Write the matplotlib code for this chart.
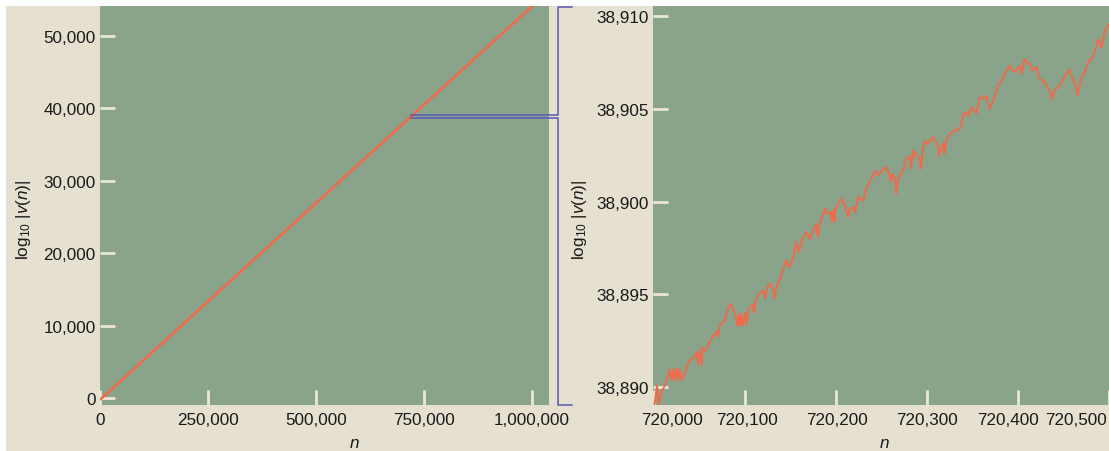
import matplotlib
matplotlib.use("Agg")
import matplotlib.pyplot as plt
from matplotlib.lines import Line2D
from matplotlib.patches import Rectangle
from matplotlib.ticker import FuncFormatter

plt.rcParams["font.family"] = ["Liberation Sans", "DejaVu Sans"]
plt.rcParams["mathtext.fontset"] = "custom"
plt.rcParams["mathtext.rm"] = "Liberation Sans"
plt.rcParams["mathtext.it"] = "Liberation Sans:italic"

PANEL, PAPER = "#89a48a", "#e5e0cf"
CURVE, BRACKET, TICK, INK = "#ef6b4b", "#5858b4", "#ece8d9", "#1a1a1a"
FS = 12.3

# overview: log10|v(n)| grows almost linearly in n
N_ALL = [0, 360000, 720000, 1040000]
LOG_ALL = [-250, 19320, 38890, 56280]

# close-up window starting at n = 720,000 (offsets from the start)
N_OFF = [0, 3, 5, 8, 11, 14, 17, 19, 21, 22, 25, 26, 28, 30, 34, 38, 44, 47, 48, 50,
         52, 53, 56, 60, 65, 69, 70, 72, 77, 81, 84, 87, 90, 91, 93, 94, 95, 97, 100, 101,
         104, 108, 110, 111, 114, 120, 122, 124, 127, 131, 132, 134, 136, 140, 145, 149, 153, 156, 159, 163,
         167, 171, 175, 178, 180, 182, 188, 190, 194, 195, 197, 198, 199, 202, 206, 210, 213, 215, 219, 221,
         224, 230, 233, 237, 243, 246, 252, 255, 259, 260, 262, 265, 266, 268, 270, 274, 277, 281, 282, 285,
         288, 292, 293, 295, 297, 300, 303, 307, 310, 312, 313, 316, 318, 319, 321, 325, 330, 336, 341, 345,
         349, 354, 358, 362, 365, 369, 374, 378, 382, 385, 391, 394, 396, 402, 404, 407, 411, 413, 416, 420,
         424, 429, 433, 437, 438, 440, 446, 451, 456, 460, 464, 465, 470, 473, 477, 482, 486, 488, 492, 495,
         499, 501]
LOG_ZOOM = [38888.96, 38890.11, 38889.03, 38889.77, 38890.04, 38890.47, 38890.97, 38890.38, 38890.99, 38890.38,
            38890.99, 38890.38, 38890.95, 38890.38, 38890.84, 38891.40, 38891.65, 38891.90, 38891.22, 38891.97,
            38891.22, 38892.12, 38891.97, 38892.35, 38892.80, 38893.01, 38892.73, 38893.30, 38893.60, 38894.19,
            38894.50, 38894.19, 38893.78, 38893.32, 38893.91, 38893.32, 38893.96, 38893.32, 38894.02, 38893.37,
            38894.23, 38894.45, 38894.02, 38894.61, 38894.95, 38895.22, 38894.77, 38895.36, 38895.57, 38895.22,
            38894.77, 38895.31, 38895.57, 38896.11, 38896.83, 38896.47, 38897.01, 38897.82, 38897.28, 38898.03,
            38898.35, 38897.99, 38898.53, 38898.75, 38898.10, 38898.89, 38899.61, 38899.34, 38899.43, 38898.92,
            38899.55, 38898.92, 38899.57, 38899.88, 38900.15, 38899.70, 38899.16, 38899.61, 38899.70, 38899.39,
            38900.24, 38900.05, 38900.77, 38901.04, 38901.67, 38901.40, 38901.76, 38901.85, 38901.40, 38901.04,
            38901.49, 38901.13, 38900.41, 38901.22, 38901.40, 38901.76, 38902.30, 38902.47, 38901.76, 38902.74,
            38902.47, 38902.30, 38901.76, 38902.73, 38903.28, 38903.10, 38903.28, 38903.46, 38903.16, 38903.01,
            38902.47, 38903.01, 38903.10, 38902.56, 38903.28, 38903.64, 38903.82, 38903.91, 38904.81, 38904.62,
            38905.08, 38904.72, 38905.61, 38905.52, 38905.70, 38904.98, 38905.61, 38906.24, 38906.51, 38906.87,
            38907.31, 38907.03, 38906.96, 38907.31, 38906.87, 38907.67, 38907.40, 38907.40, 38907.04, 38907.23,
            38906.60, 38906.42, 38906.06, 38905.70, 38905.52, 38905.97, 38906.24, 38906.69, 38907.13, 38906.60,
            38906.15, 38905.70, 38906.69, 38906.96, 38907.49, 38907.76, 38908.30, 38908.75, 38908.30, 38909.11,
            38909.46, 38909.60]
N0 = 720000

L_XTICKS = [0, 250000, 500000, 750000, 1000000]
L_YTICKS = [0, 10000, 20000, 30000, 40000, 50000]
R_XTICKS = [720000, 720100, 720200, 720300, 720400, 720500]
R_YTICKS = [38890, 38895, 38900, 38905, 38910]
R_XLABEL_SHIFT = [18, 2, 1, 0, -10, -33]   # px, keeps end labels inside

W, H = 1109, 452
fig = plt.figure(figsize=(W / 100, H / 100), dpi=100, facecolor="white")
fig.patches.append(Rectangle((6 / W, 0), 1, 1 - 7 / H, transform=fig.transFigure,
                             facecolor=PAPER, edgecolor="none", zorder=-10))


def px_box(x0, y0, x1, y1):
    return [x0 / W, 1 - y1 / H, (x1 - x0) / W, (y1 - y0) / H]


axL = fig.add_axes(px_box(100, 7, 549, 406))
axR = fig.add_axes(px_box(653, 7, 1109, 406))

comma = FuncFormatter(lambda v, _: f"{v:,.0f}")
ylab = r"log$_{10}$ |$v$($n$)|"

for ax in (axL, axR):
    ax.set_facecolor(PANEL)
    for sp in ax.spines.values():
        sp.set_visible(False)
    ax.tick_params(direction="in", length=11, width=2, color=TICK,
                   labelsize=FS, labelcolor=INK, top=False, right=False)
    ax.tick_params(axis="x", pad=5)
    ax.tick_params(axis="y", pad=3)
    ax.yaxis.set_major_formatter(comma)
    ax.set_ylabel(ylab, fontsize=FS, color=INK)
    ax.set_xlabel("n", fontsize=FS, style="italic", color=INK, va="center")

axL.plot(N_ALL, LOG_ALL, color=CURVE, lw=1.9, solid_capstyle="butt")
axL.set_xlim(0, 1039300)
axL.set_ylim(-970, 54140)
axL.set_xticks(L_XTICKS)
axL.set_yticks(L_YTICKS)
axL.xaxis.set_major_formatter(comma)
axL.yaxis.set_label_coords(-0.149, 0.466)
axL.xaxis.set_label_coords(0.566, -0.093)

axR.plot([N0 + d for d in N_OFF], LOG_ZOOM, color=CURVE, lw=1.4)
axR.set_xlim(719998.6, 720499.7)
axR.set_ylim(38889.05, 38910.52)
axR.set_xticks(R_XTICKS)
axR.set_yticks(R_YTICKS)
axR.tick_params(axis="x", labelbottom=False)
for t, dx in zip(R_XTICKS, R_XLABEL_SHIFT):
    axR.annotate(f"{t:,}", xy=(t, 0), xycoords=("data", "axes fraction"),
                 xytext=(dx * 0.72, -5), textcoords="offset points",
                 ha="center", va="top", fontsize=FS, color=INK, annotation_clip=False)
axR.yaxis.set_label_coords(-0.140, 0.466)
axR.xaxis.set_label_coords(0.507, -0.093)

# bracket linking the zoomed window back to the overview line
inv = fig.transFigure.inverted()
x_start, y_mid = inv.transform(axL.transData.transform((N0, 38900)))
gap = 1.65 / H
x_br = (653 - 95.3) / W
x_tip = (653 - 81) / W
y_top, y_bot = 1 - 8 / H, 1 - 405.7 / H
for xs, ys in (([x_tip, x_br, x_br, x_start], [y_top, y_top, y_mid + gap, y_mid + gap]),
               ([x_start, x_br, x_br, x_tip], [y_mid - gap, y_mid - gap, y_bot, y_bot])):
    fig.add_artist(Line2D(xs, ys, transform=fig.transFigure, color=BRACKET, lw=1.1))

fig.savefig("out.png", dpi=100, facecolor="white")
